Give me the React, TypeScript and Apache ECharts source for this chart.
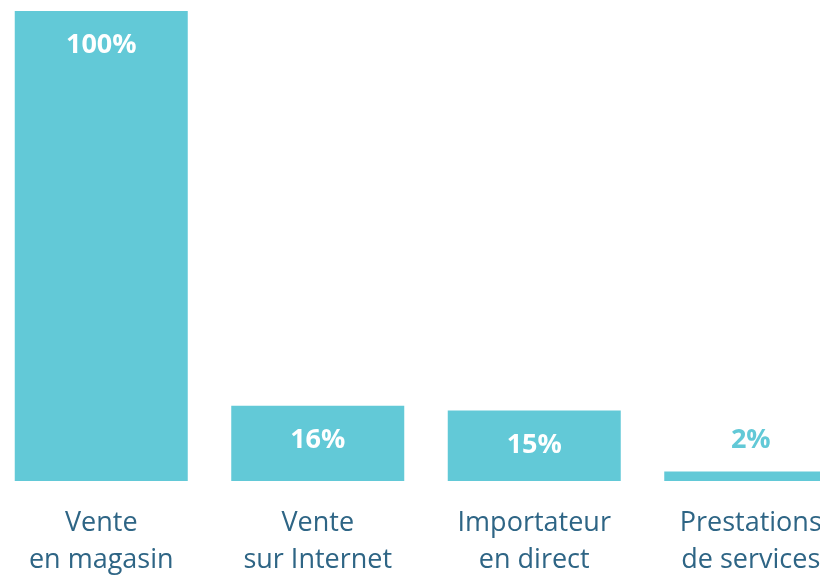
import React, { useEffect, useRef } from "react";
import * as echarts from "echarts";

const categories = ["Vente\nen magasin", "Vente\nsur Internet", "Importateur\nen direct", "Prestations\nde services"];
const values = [100, 16, 15, 2];
const labels = ["100%", "16%", "15%", "2%"];

export default function App() {
  const ref = useRef<HTMLDivElement>(null);
  useEffect(() => {
    const chart = echarts.init(ref.current!, null, { renderer: "svg" });
    const font = "'Open Sans', sans-serif";
    chart.setOption({
      animation: false,
      grid: { left: 0, right: 0, top: 11, bottom: 92 },
      xAxis: {
        type: "category",
        data: categories,
        axisLine: { show: false },
        axisTick: { show: false },
        axisLabel: {
          color: "#2E6585",
          fontSize: 27,
          lineHeight: 37,
          margin: 21,
          fontFamily: font,
          interval: 0,
        },
      },
      yAxis: { type: "value", min: 0, max: 100, show: false, splitLine: { show: false } },
      series: [
        {
          type: "bar",
          barWidth: 173,
          data: values.map((v) => ({
            value: v,
            label:
              v < 5
                ? { position: "top", distance: 21, color: "#62C9D7" }
                : { position: "insideTop", distance: 18, color: "#FFFFFF" },
          })),
          itemStyle: { color: "#62C9D7" },
          label: {
            show: true,
            fontSize: 27,
            fontWeight: "bold",
            fontFamily: font,
            formatter: (p: any) => labels[p.dataIndex],
          },
        },
      ],
    });
    return () => chart.dispose();
  }, []);
  return <div ref={ref} style={{ position: "fixed", left: -7, top: 0, width: 866, height: 576 }} />;
}
